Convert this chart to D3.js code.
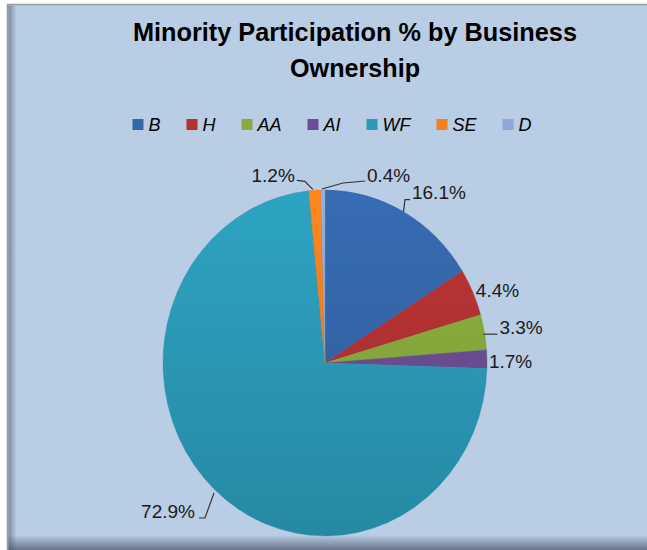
<!DOCTYPE html>
<html lang="en">
<head>
  <meta charset="UTF-8">
  <title>Minority Participation % by Business Ownership</title>
  <style>
    html, body { margin: 0; padding: 0; background: #fff; overflow: hidden; }
    svg { display: block; font-family: "Liberation Sans", Arial, sans-serif; }
  </style>
</head>
<body>
  <script src="https://cdn.jsdelivr.net/npm/d3@7"></script>
  <script>
    // chart data
    const categories = ["B", "H", "AA", "AI", "WF", "SE", "D"];
    const shares = [16.1, 4.4, 3.3, 1.7, 72.9, 1.2, 0.4];
    const sliceColors = ["#3466aa", "#b33232", "#88ab3c", "#6c4d94", "#2b9bb9", "#f2801e", "#8da8d8"];

    const width = 647, height = 550;
    const cx = 325, cy = 363, rx = 162, ry = 173;

    // label placement relative to each slice's outer edge point
    const labelLayout = [
      { dx: 8.5, dy: -19, anchor: "start", leader: [[0, 0], [1.5, -12], [6.5, -12]] },
      { dx: 3, dy: -2, anchor: "start", leader: null },
      { dx: 15, dy: -5, anchor: "start", leader: [[-1, 2], [13, 2]] },
      { dx: 2, dy: 2, anchor: "start", leader: null },
      { dx: -19.5, dy: 22.5, anchor: "end", leader: [[-0.5, 3.5], [-9.5, 28.5], [-15.5, 28.5]] },
      { dx: -20, dy: -15, anchor: "end", leader: [[-2, -1], [-10, -9], [-18, -10]] },
      { dx: 44, dy: -15, anchor: "start", leader: [[-1, -1], [20, -7], [42, -9]] }
    ];

    const data = categories.map((c, i) => ({ cat: c, value: shares[i], color: sliceColors[i] }));

    const svg = d3.select("body").append("svg")
      .attr("width", width)
      .attr("height", height);

    const defs = svg.append("defs");

    // chart area background with border and shadows
    svg.append("rect")
      .attr("x", 8).attr("y", 5)
      .attr("width", width - 8).attr("height", height - 5)
      .attr("fill", "#b9cde5");
    svg.append("path")
      .attr("d", `M7.5,${height}V4.5H${width}`)
      .attr("fill", "none")
      .attr("stroke", "#9a9a9a")
      .attr("stroke-width", 1.5);

    const leftShade = defs.append("linearGradient").attr("id", "leftShade");
    leftShade.append("stop").attr("offset", 0).attr("stop-color", "#4a5568").attr("stop-opacity", 0.55);
    leftShade.append("stop").attr("offset", 1).attr("stop-color", "#4a5568").attr("stop-opacity", 0);
    svg.append("rect").attr("x", 8.5).attr("y", 5.5).attr("width", 8).attr("height", height)
      .attr("fill", "url(#leftShade)");

    const bottomShade = defs.append("linearGradient").attr("id", "bottomShade")
      .attr("x1", 0).attr("y1", 0).attr("x2", 0).attr("y2", 1);
    bottomShade.append("stop").attr("offset", 0).attr("stop-color", "#4a5568").attr("stop-opacity", 0);
    bottomShade.append("stop").attr("offset", 1).attr("stop-color", "#4a5568").attr("stop-opacity", 0.75);
    svg.append("rect").attr("x", 8.5).attr("y", 535).attr("width", width).attr("height", 15)
      .attr("fill", "url(#bottomShade)");

    // title
    const title = svg.append("text")
      .attr("text-anchor", "middle")
      .attr("font-weight", "bold")
      .attr("font-size", 25)
      .attr("fill", "#000");
    title.append("tspan").attr("x", 355).attr("y", 41)
      .attr("textLength", 444).attr("lengthAdjust", "spacingAndGlyphs")
      .text("Minority Participation % by Business");
    title.append("tspan").attr("x", 355).attr("y", 77)
      .attr("textLength", 130).attr("lengthAdjust", "spacingAndGlyphs")
      .text("Ownership");

    // legend
    const legend = svg.append("g").attr("font-size", 18).attr("font-style", "italic");
    let lx = 0;
    data.forEach(d => {
      const g = legend.append("g").attr("transform", `translate(${lx},0)`);
      g.append("rect").attr("x", 0).attr("y", -6).attr("width", 11).attr("height", 11)
        .attr("fill", d.color);
      const t = g.append("text").attr("x", 16).attr("y", 0)
        .attr("dominant-baseline", "central").attr("fill", "#000").text(d.cat);
      const w = t.node().getComputedTextLength();
      lx += 16 + w + 26;
    });
    const legendWidth = lx - 26;
    legend.attr("transform", `translate(${332 - legendWidth / 2},125)`);

    // pie
    const pie = d3.pie().sort(null).value(d => d.value);
    const arcs = pie(data);
    const arc = d3.arc().innerRadius(0).outerRadius(rx);

    data.forEach((d, i) => {
      const grad = defs.append("linearGradient")
        .attr("id", "slice" + i)
        .attr("gradientUnits", "userSpaceOnUse")
        .attr("x1", 0).attr("y1", -rx).attr("x2", 0).attr("y2", rx);
      grad.append("stop").attr("offset", 0).attr("stop-color", d3.color(d.color).brighter(0.15));
      grad.append("stop").attr("offset", 1).attr("stop-color", d3.color(d.color).darker(0.35));
    });

    svg.append("g")
      .attr("transform", `translate(${cx},${cy}) scale(1,${ry / rx})`)
      .selectAll("path")
      .data(arcs)
      .join("path")
      .attr("d", arc)
      .attr("fill", (d, i) => `url(#slice${i})`)
      .attr("stroke", (d, i) => d3.color(sliceColors[i]).darker(0.2))
      .attr("stroke-width", 0.4);

    // data labels and leader lines
    const edgePoint = a => {
      const m = (a.startAngle + a.endAngle) / 2;
      return [cx + rx * Math.sin(m), cy - ry * Math.cos(m)];
    };

    const labels = svg.append("g").attr("font-size", 19).attr("fill", "#1a1a1a");
    arcs.forEach((a, i) => {
      const [ex, ey] = edgePoint(a);
      const lay = labelLayout[i];
      if (lay.leader) {
        labels.append("path")
          .attr("d", d3.line()(lay.leader.map(p => [ex + p[0], ey + p[1]])))
          .attr("fill", "none")
          .attr("stroke", "#333")
          .attr("stroke-width", 1.2);
      }
      labels.append("text")
        .attr("x", ex + lay.dx)
        .attr("y", ey + lay.dy)
        .attr("text-anchor", lay.anchor)
        .attr("dominant-baseline", "central")
        .text(d3.format(".1f")(a.data.value) + "%");
    });
  </script>
</body>
</html>
